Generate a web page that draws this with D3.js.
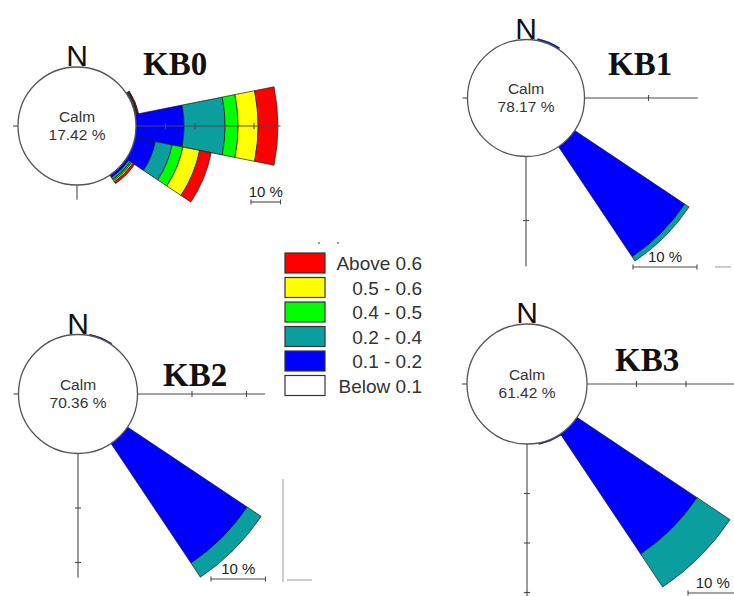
<!DOCTYPE html>
<html><head><meta charset="utf-8">
<script src="https://cdn.jsdelivr.net/npm/d3@7"></script>
<style>body{margin:0;background:#fff}svg{display:block}</style>
</head><body>
<svg id="chart" width="734" height="596"></svg>
<script>
// ---- data ----
const bins = ["0.1 - 0.2", "0.2 - 0.4", "0.4 - 0.5", "0.5 - 0.6", "Above 0.6"];
const binColors = ["#0000ff", "#0a9e9e", "#00ff00", "#ffff00", "#ff0000"];
const legendLabels = ["Above 0.6", "0.5 - 0.6", "0.4 - 0.5", "0.2 - 0.4", "0.1 - 0.2", "Below 0.1"];
const legendColors = ["#ff0000", "#ffff00", "#00ff00", "#0a9e9e", "#0000ff", "#ffffff"];
const stations = ["KB0", "KB1", "KB2", "KB3"];
const calm = [17.42, 78.17, 70.36, 61.42];
// each row: direction (deg), then % for 0.1-0.2, 0.2-0.4, 0.4-0.5, 0.5-0.6, above 0.6
const kb0 = [[67.5, 0.3, 0.4, 0.2, 0.1, 0.3], [90, 16.3, 13.9, 4.4, 6.8, 6.7], [112.5, 7.1, 5.8, 3.7, 5.8, 4.0], [135, 1.0, 0.8, 0.5, 0.5, 0.7]];
const kb1 = [[22.5, 0.3, 0, 0, 0, 0], [135, 20.7, 0.8, 0, 0, 0]];
const kb2 = [[22.5, 0.25, 0, 0, 0, 0], [135, 26.4, 3.1, 0, 0, 0]];
const kb3 = [[157.5, 0.3, 0, 0, 0, 0], [135, 29.2, 8.0, 0, 0, 0]];
const scaleLabel = "10 %";

// ---- layout ----
const panels = [
  {name: stations[0], calm: calm[0], petals: kb0, cx: 77, cy: 126, r: 59, px: 2.95, axE: 49, axS: 5, bar: [251, 202], title: [143, 75]},
  {name: stations[1], calm: calm[1], petals: kb1, cx: 526, cy: 98, r: 58.5, px: 6.4, axE: 17.7, axS: 17.2, bar: [633, 267], title: [608, 75]},
  {name: stations[2], calm: calm[2], petals: kb2, cx: 78, cy: 394, r: 59.5, px: 5.45, axE: 23.4, axS: 22.8, bar: [211, 579], title: [163, 386]},
  {name: stations[3], calm: calm[3], petals: kb3, cx: 527, cy: 384, r: 60, px: 4.95, axE: 45, axS: 45, bar: [688, 593], title: [615, 371]}
];

const svg = d3.select("#chart");
const toRad = d => d * Math.PI / 180;
const axisCol = "#4a4a4a";

panels.forEach(p => {
  const g = svg.append("g").attr("transform", `translate(${p.cx},${p.cy})`);
  const rs = d3.scaleLinear().domain([0, 100]).range([p.r, p.r + 100 * p.px]);
  const arc = d3.arc();
  // petals
  p.petals.forEach(row => {
    const dir = row[0];
    let cum = 0;
    row.slice(1).forEach((v, i) => {
      if (v <= 0) return;
      g.append("path")
        .attr("d", arc({innerRadius: rs(cum), outerRadius: rs(cum + v), startAngle: toRad(dir - 11.25), endAngle: toRad(dir + 11.25)}))
        .attr("fill", binColors[i]).attr("stroke", "#1a1a1a").attr("stroke-width", 0.7);
      cum += v;
    });
  });
  // axes
  const ax = g.append("g").attr("stroke", axisCol).attr("stroke-width", 1.1);
  ax.append("line").attr("x1", rs(0)).attr("x2", rs(p.axE)).attr("y1", 0).attr("y2", 0);
  ax.append("line").attr("y1", rs(0)).attr("y2", rs(p.axS)).attr("x1", 0).attr("x2", 0);
  ax.append("line").attr("x1", -rs(0)).attr("x2", -rs(0) - 5).attr("y1", 0).attr("y2", 0);
  d3.range(10, p.axE + 0.01, 10).forEach(t => ax.append("line").attr("x1", rs(t)).attr("x2", rs(t)).attr("y1", -3).attr("y2", 3));
  d3.range(10, p.axS + 0.01, 10).forEach(t => ax.append("line").attr("y1", rs(t)).attr("y2", rs(t)).attr("x1", -3).attr("x2", 3));
  // calm circle
  g.append("circle").attr("r", p.r).attr("fill", "#fff").attr("stroke", "#555").attr("stroke-width", 1.3);
  g.append("text").attr("text-anchor", "middle").attr("y", -4).attr("font-family", "Liberation Sans, Arial, sans-serif")
    .attr("font-size", 15.5).attr("fill", "#333").text("Calm");
  g.append("text").attr("text-anchor", "middle").attr("y", 14).attr("font-family", "Liberation Sans, Arial, sans-serif")
    .attr("font-size", 15.5).attr("fill", "#333").text(d3.format(".2f")(p.calm) + " %");
  // N
  g.append("text").attr("text-anchor", "middle").attr("y", -p.r - 1).attr("font-family", "Liberation Sans, Arial, sans-serif")
    .attr("font-size", 30).attr("fill", "#111").text("N");
  // title
  svg.append("text").attr("x", p.title[0]).attr("y", p.title[1]).attr("font-family", "Liberation Serif, Times New Roman, serif")
    .attr("font-weight", "bold").attr("font-size", 33).attr("fill", "#111").text(p.name);
  // scale bar
  const bx = p.bar[0], by = p.bar[1], bw = 10 * p.px;
  const sb = svg.append("g").attr("stroke", axisCol).attr("stroke-width", 1.1);
  sb.append("line").attr("x1", bx).attr("x2", bx + bw).attr("y1", by).attr("y2", by);
  sb.append("line").attr("x1", bx).attr("x2", bx).attr("y1", by - 2.5).attr("y2", by + 2.5);
  sb.append("line").attr("x1", bx + bw).attr("x2", bx + bw).attr("y1", by - 2.5).attr("y2", by + 2.5);
  svg.append("text").attr("x", bx + bw / 2).attr("y", by - 5).attr("text-anchor", "middle")
    .attr("font-family", "Liberation Sans, Arial, sans-serif").attr("font-size", 15).attr("fill", "#222").text(scaleLabel);
});

// legend
const lg = svg.append("g");
legendLabels.forEach((lab, i) => {
  const y = 253 + i * 24.5;
  lg.append("rect").attr("x", 285).attr("y", y).attr("width", 40).attr("height", 20)
    .attr("fill", legendColors[i]).attr("stroke", "#333").attr("stroke-width", 1.2);
  lg.append("text").attr("x", 422).attr("y", y + 17).attr("text-anchor", "end")
    .attr("font-family", "Liberation Sans, Arial, sans-serif").attr("font-size", 19).attr("fill", "#333").text(lab);
});
lg.append("circle").attr("cx", 319).attr("cy", 243).attr("r", 1).attr("fill", "#777");
lg.append("circle").attr("cx", 338).attr("cy", 243).attr("r", 1).attr("fill", "#777");

// stray line fragments present in the source figure
const frag = svg.append("g").attr("stroke", "#999").attr("stroke-width", 1).attr("fill", "none");
frag.append("path").attr("d", "M283,479V582");
frag.append("path").attr("d", "M287,580H312");
frag.append("path").attr("d", "M715,267H731");
</script>
</body></html>
